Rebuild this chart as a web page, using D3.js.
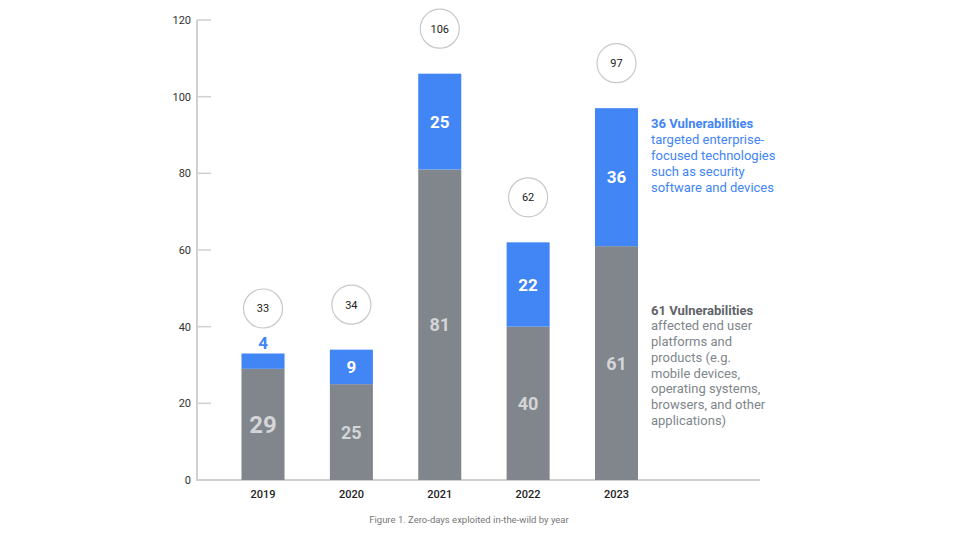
<!DOCTYPE html>
<html><head><meta charset="utf-8">
<script src="https://cdn.jsdelivr.net/npm/d3@7"></script>
<style>
html,body{margin:0;padding:0;background:#fff;}
svg{display:block;font-family:Roboto,"Open Sans",sans-serif;}
</style></head>
<body><svg id="chart" width="960" height="541"></svg>
<script>
const years = ["2019","2020","2021","2022","2023"];
const endUser = [29,25,81,40,61];
const enterprise = [4,9,25,22,36];
const totals = [33,34,106,62,97];
const yTicks = [0,20,40,60,80,100,120];
const enterpriseNote = ["36 Vulnerabilities","targeted enterprise-","focused technologies","such as security","software and devices"];
const endUserNote = ["61 Vulnerabilities","affected end user","platforms and","products (e.g.","mobile devices,","operating systems,","browsers, and other","applications)"];
const caption = "Figure 1. Zero-days exploited in-the-wild by year";

const GRAY = "#80868b", BLUE = "#4285f4", AXIS = "#d0d0d0";
const svg = d3.select("#chart");
const y = d3.scaleLinear().domain([0,120]).range([480,20]);
const x = d3.scaleBand().domain(years).range([241.5,638]).paddingInner(0.513).paddingOuter(0);

// axes
svg.append("line").attr("x1",197).attr("x2",197).attr("y1",y(120)).attr("y2",y(0))
  .attr("stroke",AXIS).attr("stroke-width",2);
svg.append("line").attr("x1",196).attr("x2",760).attr("y1",y(0)).attr("y2",y(0))
  .attr("stroke",AXIS).attr("stroke-width",2);
const ty = svg.append("g").selectAll("g").data(yTicks).join("g").attr("transform",d=>`translate(0,${y(d)})`);
ty.append("line").attr("x1",197).attr("x2",211).attr("stroke",AXIS).attr("stroke-width",1.5);
ty.append("text").attr("x",191).attr("dy","0.35em").attr("text-anchor","end")
  .attr("font-size",11).attr("fill","#333").text(d=>d);

const rows = years.map((yr,i)=>({yr,a:endUser[i],b:enterprise[i],t:totals[i]}));
const g = svg.append("g").selectAll("g").data(rows).join("g");
g.append("rect").attr("x",d=>x(d.yr)).attr("width",x.bandwidth())
  .attr("y",d=>y(d.a)).attr("height",d=>y(0)-y(d.a)).attr("fill",GRAY);
g.append("rect").attr("x",d=>x(d.yr)).attr("width",x.bandwidth())
  .attr("y",d=>y(d.a+d.b)).attr("height",d=>y(d.a)-y(d.a+d.b)).attr("fill",BLUE);
const cx = d=>x(d.yr)+x.bandwidth()/2;
// gray segment labels
g.append("text").attr("x",cx).attr("y",d=>(y(0)+y(d.a))/2).attr("dy","0.36em")
  .attr("text-anchor","middle").attr("font-weight",700)
  .attr("font-size",d=>d.yr==="2019"?24:18).attr("fill","#d3d5d8").text(d=>d.a);
// blue segment labels
g.append("text").attr("x",cx)
  .attr("y",d=> (y(d.a)-y(d.a+d.b))<20 ? y(d.a+d.b)-11 : (y(d.a)+y(d.a+d.b))/2)
  .attr("dy","0.36em").attr("text-anchor","middle").attr("font-weight",700).attr("font-size",17)
  .attr("fill",d=> (y(d.a)-y(d.a+d.b))<20 ? BLUE : "#fff").text(d=>d.b);
// total circles
g.append("circle").attr("cx",cx).attr("cy",d=>y(d.t)-45).attr("r",19.5)
  .attr("fill","#fff").attr("stroke","#c8c8c8").attr("stroke-width",1.2);
g.append("text").attr("x",cx).attr("y",d=>y(d.t)-45).attr("dy","0.36em").attr("text-anchor","middle")
  .attr("font-size",11).attr("fill","#222").text(d=>d.t);
// year labels
g.append("text").attr("x",cx).attr("y",494).attr("dy","0.36em").attr("text-anchor","middle")
  .attr("font-size",11).attr("font-weight",500).attr("fill","#222").text(d=>d.yr);

// notes
const n1 = svg.append("text").attr("x",651).attr("y",123).attr("font-size",13).attr("fill",BLUE);
enterpriseNote.forEach((s,i)=>n1.append("tspan").attr("x",651).attr("dy",i?"1.23em":"0.36em")
  .attr("font-weight",i?400:700).text(s));
const n2 = svg.append("text").attr("x",651).attr("y",310).attr("font-size",13).attr("fill",GRAY);
endUserNote.forEach((s,i)=>n2.append("tspan").attr("x",651).attr("dy",i?"1.21em":"0.36em")
  .attr("font-weight",i?400:700).attr("fill",i?GRAY:"#5f6368").text(s));

svg.append("text").attr("x",469).attr("y",520).attr("dy","0.36em").attr("text-anchor","middle")
  .attr("font-size",9.5).attr("fill","#777").text(caption);
</script></body></html>
